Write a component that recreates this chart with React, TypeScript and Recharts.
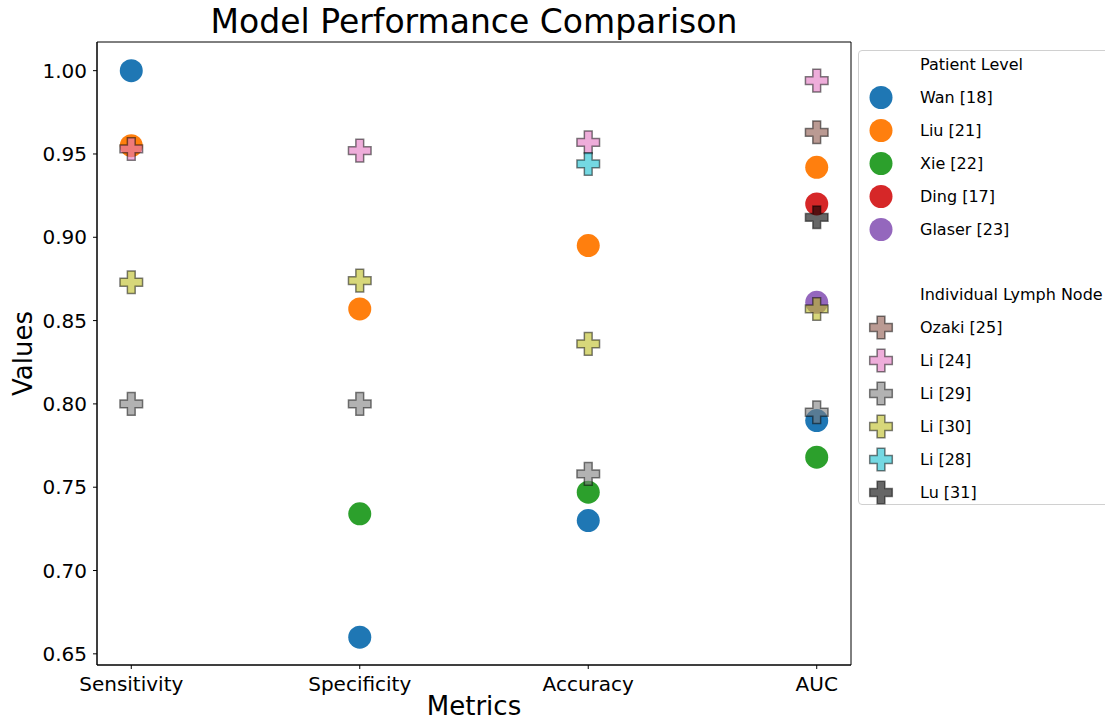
import React from "react";
import { ScatterChart, Scatter, XAxis, YAxis, ReferenceArea } from "recharts";

const metrics = ["Sensitivity", "Specificity", "Accuracy", "AUC"];
const yTicks = [0.65, 0.7, 0.75, 0.8, 0.85, 0.9, 0.95, 1.0];

// patient level (circles) - order: Sensitivity, Specificity, Accuracy, AUC
const wan = [1.0, 0.66, 0.73, 0.79];
const liu = [0.955, 0.857, 0.895, 0.942];
const xie = [null, 0.734, 0.747, 0.768];
const ding = [null, null, null, 0.92];
const glaser = [null, null, null, 0.861];

// individual lymph node (plus markers)
const ozaki = [null, null, null, 0.963];
const li24 = [0.953, 0.952, 0.957, 0.994];
const li29 = [0.8, 0.8, 0.758, 0.795];
const li30 = [0.873, 0.874, 0.836, 0.857];
const li28 = [null, null, 0.944, null];
const lu = [null, null, null, 0.912];

const FONT = "'DejaVu Sans', sans-serif";

type Series = { name: string; values: (number | null)[]; color: string; kind: "circle" | "plus" };

const patient: Series[] = [
  { name: "Wan [18]", values: wan, color: "#1f77b4", kind: "circle" },
  { name: "Liu [21]", values: liu, color: "#ff7f0e", kind: "circle" },
  { name: "Xie [22]", values: xie, color: "#2ca02c", kind: "circle" },
  { name: "Ding [17]", values: ding, color: "#d62728", kind: "circle" },
  { name: "Glaser [23]", values: glaser, color: "#9467bd", kind: "circle" },
];
const node: Series[] = [
  { name: "Ozaki [25]", values: ozaki, color: "#8c564b", kind: "plus" },
  { name: "Li [24]", values: li24, color: "#e377c2", kind: "plus" },
  { name: "Li [29]", values: li29, color: "#7f7f7f", kind: "plus" },
  { name: "Li [30]", values: li30, color: "#bcbd22", kind: "plus" },
  { name: "Li [28]", values: li28, color: "#17becf", kind: "plus" },
  { name: "Lu [31]", values: lu, color: "#000000", kind: "plus" },
];

const toPoints = (vals: (number | null)[]) =>
  vals.map((v, i) => ({ x: i, y: v })).filter((p) => p.y !== null);

const plusPath = (cx: number, cy: number, s = 11.3, a = 3.9) =>
  `M${cx - a},${cy - s}H${cx + a}V${cy - a}H${cx + s}V${cy + a}H${cx + a}V${cy + s}H${cx - a}V${cy + a}H${cx - s}V${cy - a}H${cx - a}Z`;

const Marker = ({ cx, cy, color, kind }: { cx: number; cy: number; color: string; kind: string }) =>
  kind === "circle" ? (
    <circle cx={cx} cy={cy} r={11.5} fill={color} />
  ) : (
    <path d={plusPath(cx, cy)} fill={color} fillOpacity={0.6} stroke="#000" strokeOpacity={0.5} strokeWidth={1.5} />
  );

const LegendBox = () => {
  const rows: (Series | string | null)[] = ["Patient Level", ...patient, null, "Individual Lymph Node", ...node];
  return (
    <div
      style={{
        position: "absolute",
        left: 858,
        top: 50,
        width: 260,
        height: 455,
        border: "1px solid #d0d0d0",
        borderRadius: 4,
        background: "#fff",
        fontFamily: FONT,
        fontSize: 16,
        color: "#000",
        boxSizing: "border-box",
      }}
    >
      {rows.map((r, i) => (
        <div
          key={i}
          style={{
            position: "absolute",
            left: 0,
            top: 13.3 + i * 32.95 - 16.5,
            height: 33,
            display: "flex",
            alignItems: "center",
            whiteSpace: "nowrap",
          }}
        >
          <svg width={61} height={33} style={{ flex: "none" }}>
            {r && typeof r !== "string" && <Marker cx={22} cy={16.5} color={r.color} kind={r.kind} />}
          </svg>
          <span>{r === null ? "" : typeof r === "string" ? r : r.name}</span>
        </div>
      ))}
    </div>
  );
};

const App = () => {
  const all = [...patient, ...node];
  return (
    <div style={{ position: "absolute", left: 0, top: 0, width: 1105, height: 722, background: "#fff", overflow: "hidden" }}>
      <svg width={1105} height={42} style={{ position: "absolute", left: 0, top: 0 }}>
        <text x={474} y={33} textAnchor="middle" fontSize={33} fontFamily={FONT} fill="#000">
          Model Performance Comparison
        </text>
      </svg>
      <ScatterChart width={1105} height={722} margin={{ top: 42, right: 254, left: 0, bottom: 0 }}>
        <XAxis
          type="number"
          dataKey="x"
          domain={[-0.15, 3.15]}
          ticks={[0, 1, 2, 3]}
          tickFormatter={(v: number) => metrics[v]}
          allowDataOverflow
          height={57}
          tickSize={4}
          tickMargin={8}
          stroke="#000"
          tick={{ fill: "#000", fontSize: 20, fontFamily: FONT }}
          label={{ value: "Metrics", position: "insideBottom", offset: 7, fontSize: 26, fontFamily: FONT, fill: "#000" }}
        />
        <YAxis
          type="number"
          dataKey="y"
          domain={[0.6433, 1.0172]}
          ticks={yTicks}
          tickFormatter={(v: number) => v.toFixed(2)}
          allowDataOverflow
          width={97}
          tickSize={4}
          tickMargin={6}
          stroke="#000"
          tick={{ fill: "#000", fontSize: 20, fontFamily: FONT }}
          label={({ viewBox }: any) => (
            <text
              x={23}
              y={viewBox.y + viewBox.height / 2}
              transform={`rotate(-90, 23, ${viewBox.y + viewBox.height / 2})`}
              textAnchor="middle"
              dominantBaseline="central"
              fontSize={26}
              fontFamily={FONT}
              fill="#000"
            >
              Values
            </text>
          )}
        />
        <ReferenceArea x1={-0.15} x2={3.15} y1={0.6433} y2={1.0172} fill="none" stroke="#000" strokeWidth={1} />
        {all.map((s) => (
          <Scatter
            key={s.name}
            name={s.name}
            data={toPoints(s.values)}
            isAnimationActive={false}
            shape={(p: any) => <Marker cx={p.cx} cy={p.cy} color={s.color} kind={s.kind} />}
          />
        ))}
      </ScatterChart>
      <LegendBox />
    </div>
  );
};

export default App;
